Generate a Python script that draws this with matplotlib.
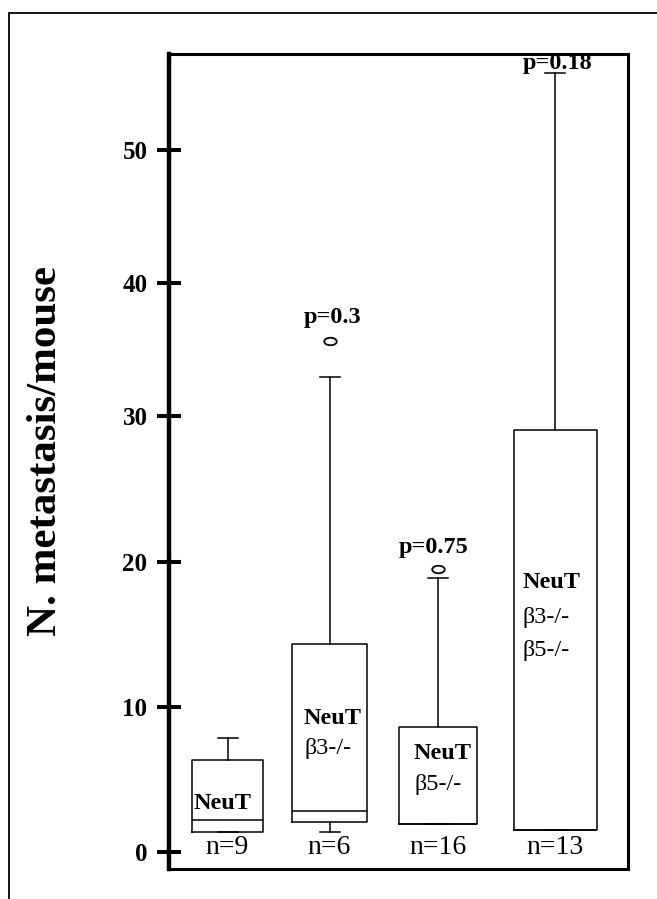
import numpy as np
import matplotlib
matplotlib.use('Agg')
import matplotlib.pyplot as plt
from matplotlib.patches import Rectangle
from matplotlib.path import Path
from matplotlib.transforms import Affine2D

# Дані боксплотів
groups = ['NeuT', 'NeuT β3-/-', 'NeuT β5-/-', 'NeuT β3-/- β5-/-']
n_labels = ['n=9', 'n=6', 'n=16', 'n=13']
p_labels = ['', 'p=0.3', 'p=0.75', 'p=0.18']
q1 = [1.39, 2.10, 1.96, 1.53]
median = [2.22, 2.85, 1.96, 1.53]
q3 = [6.34, 14.34, 8.63, 29.06]
whis_lo = [1.39, 1.39, 1.96, 1.53]
whis_hi = [7.85, 32.9, 18.9, 55.8]
outliers = [[], [35.65], [19.5], []]
box_text = [['NeuT'], ['NeuT', 'β3-/-'], ['NeuT', 'β5-/-'], ['NeuT', 'β3-/-', 'β5-/-']]
y_ticks = [0, 10, 20, 30, 40, 50]

# Розміщення (не дані)
positions = [58.5, 160.5, 269, 386.3]
widths = [71, 75, 78, 83]
text_left = [25, 135, 245, 354]
text_y = [[3.32], [9.22, 7.16], [6.75, 4.62], [18.57, 16.2, 13.9]]
p_pos = [None, (164, 37.4), (265, 21.0), (389, 56.5)]

# Нерівномірна вісь, як на оригіналі
knot_v = [-10, 0, 10, 20, 30, 40, 50, 70]
knot_p = [-145.6, 0, 145.6, 290, 436.3, 569, 702.3, 968.9]

def fwd(v):
    return np.interp(v, knot_v, knot_p)

def inv(p):
    return np.interp(p, knot_p, knot_v)

plt.rcParams['font.family'] = ['Liberation Serif', 'DejaVu Serif']

fig = plt.figure(figsize=(6.57, 8.99), dpi=100)
ax = fig.add_axes([169 / 657, 1 - 869 / 899, 459 / 657, 815 / 899])
ax.set_yscale('function', functions=(fwd, inv))

stats = []
for i in range(len(groups)):
    stats.append({'label': groups[i], 'q1': q1[i], 'med': median[i], 'q3': q3[i],
                  'whislo': whis_lo[i], 'whishi': whis_hi[i], 'fliers': outliers[i]})

# Еліптичний маркер для викидів
ell = Path.unit_circle().transformed(Affine2D().scale(1, 0.6))
line = dict(color='black', linewidth=1.1)
ax.bxp(stats, positions=positions, widths=widths, showcaps=True,
       boxprops=line, whiskerprops=line, capprops=line,
       medianprops=dict(color='black', linewidth=1.1),
       flierprops=dict(marker=ell, markersize=9, markerfacecolor='white',
                       markeredgecolor='black', markeredgewidth=1.3),
       capwidths=[20, 20, 20, 20], manage_ticks=False)

ax.set_xlim(0, 459)
ax.set_ylim(-1.15, 57.2)
ax.set_xticks([])
ax.set_yticks(y_ticks)
ax.set_yticklabels([str(t) for t in y_ticks], fontsize=18, fontweight='bold')
ax.tick_params(axis='y', direction='inout', length=17, width=2.9, pad=7)

ax.spines['left'].set_linewidth(3.2)
for s in ['top', 'right', 'bottom']:
    ax.spines[s].set_linewidth(2.2)

ax.set_ylabel('N. metastasis/mouse', fontsize=31, fontweight='bold')
ax.yaxis.set_label_coords(-0.227, 0.513)

# Підписи всередині боксів
for i in range(len(groups)):
    for j, t in enumerate(box_text[i]):
        ax.text(text_left[i], text_y[i][j], t, fontsize=17.5, va='center', ha='left',
                fontweight='bold' if j == 0 else 'normal')
    ax.text(positions[i], 0.3, n_labels[i], fontsize=20, ha='center', va='center')
    if p_pos[i] is not None:
        ax.text(p_pos[i][0], p_pos[i][1], p_labels[i], fontsize=17.5,
                fontweight='bold', ha='center', va='center')

# Зовнішня рамка
fig.add_artist(Rectangle((9 / 657, -0.1), 1.2, 1.1 - 12.6 / 899, fill=False,
                         linewidth=1.3, edgecolor='black', transform=fig.transFigure))

fig.savefig('out.png', dpi=100)
